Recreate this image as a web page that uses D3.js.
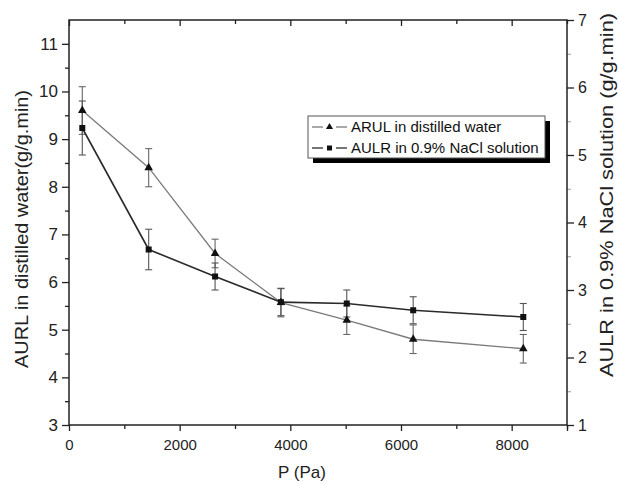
<!DOCTYPE html>
<html>
<head>
<meta charset="utf-8">
<script src="https://cdn.jsdelivr.net/npm/d3@7"></script>
<style>
  html, body { margin: 0; padding: 0; background: #fff; }
  svg { display: block; font-family: Arial, "Liberation Sans", sans-serif; }
</style>
</head>
<body>
<svg id="chart" width="619" height="485"></svg>
<script>
// Applied pressure (Pa)
const pressure = [240, 1440, 2640, 3830, 5020, 6220, 8210];
// Absorption rate in distilled water (left axis) and its error
const arul = [9.6, 8.4, 6.6, 5.57, 5.2, 4.8, 4.6];
const arulErr = [0.5, 0.4, 0.3, 0.3, 0.3, 0.3, 0.3];
// Absorption rate in 0.9% NaCl solution (right axis) and its error
const aulr = [5.4, 3.6, 3.2, 2.82, 2.8, 2.7, 2.6];
const aulrErr = [0.4, 0.3, 0.2, 0.2, 0.2, 0.2, 0.2];

const xTicks = [0, 2000, 4000, 6000, 8000];
const leftTicks = [3, 4, 5, 6, 7, 8, 9, 10, 11];
const rightTicks = [1, 2, 3, 4, 5, 6, 7];
const legendLabels = ["ARUL in distilled water", "AULR in 0.9% NaCl solution"];

const svg = d3.select("#chart");
const L = 69, R = 567, T = 20, B = 425;

const x = d3.scaleLinear().domain([0, 9000]).range([L, R]);
const yL = d3.scaleLinear().domain([3, 11.5]).range([B, T]);
const yR = d3.scaleLinear().domain([1, 7]).range([B, T]);

const axisColor = "#222";

function styleAxis(g) {
  g.selectAll(".domain").remove();
  g.selectAll("line").attr("stroke", axisColor).attr("stroke-width", 1.3);
  g.selectAll("text").attr("fill", "#222").style("font-size", "15px");
}

// minor ticks
const xMinor = d3.range(1000, 9001, 2000);
const leftMinor = d3.range(3.5, 11.5, 1);
const rightMinor = d3.range(1.5, 7, 1);

svg.append("g").attr("transform", `translate(0,${B})`)
  .call(d3.axisBottom(x).tickValues(xMinor).tickSize(4).tickFormat(""))
  .call(styleAxis);
svg.append("g").attr("transform", `translate(0,${B})`)
  .call(d3.axisBottom(x).tickValues(xTicks.concat([9000])).tickSize(6).tickPadding(8)
    .tickFormat(d => d === 9000 ? "" : d3.format("d")(d)))
  .call(styleAxis)
  .call(g => g.selectAll("text").style("font-size", "15px"));

svg.append("g").attr("transform", `translate(0,${T})`)
  .call(d3.axisBottom(x).tickValues(xMinor).tickSize(4).tickFormat(""))
  .call(styleAxis);
svg.append("g").attr("transform", `translate(0,${T})`)
  .call(d3.axisBottom(x).tickValues(xTicks).tickSize(6).tickFormat(""))
  .call(styleAxis);

svg.append("g").attr("transform", `translate(${L},0)`)
  .call(d3.axisLeft(yL).tickValues(leftMinor).tickSize(4).tickFormat(""))
  .call(styleAxis);
svg.append("g").attr("transform", `translate(${L},0)`)
  .call(d3.axisLeft(yL).tickValues(leftTicks).tickSize(7).tickPadding(4).tickFormat(d3.format("d")))
  .call(styleAxis)
  .call(g => g.selectAll("text").style("font-size", "17px"));

svg.append("g").attr("transform", `translate(${R},0)`)
  .call(d3.axisRight(yR).tickValues(rightMinor).tickSize(4).tickFormat(""))
  .call(styleAxis)
  .call(g => g.selectAll("line").attr("stroke", "#999").attr("stroke-width", 1));
svg.append("g").attr("transform", `translate(${R},0)`)
  .call(d3.axisRight(yR).tickValues(rightTicks).tickSize(7).tickPadding(4).tickFormat(d3.format("d")))
  .call(styleAxis)
  .call(g => g.selectAll("text").style("font-size", "16px"));

// frame
svg.append("rect").attr("x", L).attr("y", T).attr("width", R - L).attr("height", B - T)
  .attr("fill", "none").attr("stroke", axisColor).attr("stroke-width", 1.5);

// error bars
function errorBars(vals, errs, y, color) {
  const g = svg.append("g").attr("stroke", color).attr("stroke-width", 1.1).attr("fill", "none");
  vals.forEach((v, i) => {
    const cx = x(pressure[i]);
    const y1 = y(v + errs[i]), y2 = y(v - errs[i]);
    g.append("line").attr("x1", cx).attr("x2", cx).attr("y1", y1).attr("y2", y2);
    g.append("line").attr("x1", cx - 3.5).attr("x2", cx + 3.5).attr("y1", y1).attr("y2", y1);
    g.append("line").attr("x1", cx - 3.5).attr("x2", cx + 3.5).attr("y1", y2).attr("y2", y2);
  });
}
errorBars(arul, arulErr, yL, "#666");
errorBars(aulr, aulrErr, yR, "#555");

// lines
const lineL = d3.line().x((d, i) => x(pressure[i])).y(d => yL(d));
const lineR = d3.line().x((d, i) => x(pressure[i])).y(d => yR(d));
svg.append("path").attr("d", lineL(arul)).attr("fill", "none").attr("stroke", "#7a7a7a").attr("stroke-width", 1.3);
svg.append("path").attr("d", lineR(aulr)).attr("fill", "none").attr("stroke", "#2a2a2a").attr("stroke-width", 1.6);

// markers
const tri = d3.symbol().type(d3.symbolTriangle).size(32);
svg.append("g").selectAll("path").data(arul).join("path")
  .attr("d", tri)
  .attr("transform", (d, i) => `translate(${x(pressure[i])},${yL(d)})`)
  .attr("fill", "#111");
svg.append("g").selectAll("rect").data(aulr).join("rect")
  .attr("x", (d, i) => x(pressure[i]) - 3)
  .attr("y", d => yR(d) - 3)
  .attr("width", 6).attr("height", 6)
  .attr("fill", "#111");

// legend
const lg = svg.append("g");
lg.append("rect").attr("x", 313).attr("y", 121).attr("width", 237).attr("height", 42).attr("fill", "#000");
lg.append("rect").attr("x", 308).attr("y", 116).attr("width", 237).attr("height", 42)
  .attr("fill", "#fff").attr("stroke", "#555").attr("stroke-width", 1);
const rows = [
  { y: 127, color: "#7a7a7a", mark: "tri" },
  { y: 148, color: "#2a2a2a", mark: "sq" }
];
rows.forEach((r, i) => {
  lg.append("line").attr("x1", 312).attr("x2", 323).attr("y1", r.y).attr("y2", r.y)
    .attr("stroke", r.color).attr("stroke-width", 1.3);
  lg.append("line").attr("x1", 336).attr("x2", 347).attr("y1", r.y).attr("y2", r.y)
    .attr("stroke", r.color).attr("stroke-width", 1.3);
  if (r.mark === "tri") {
    lg.append("path").attr("d", d3.symbol().type(d3.symbolTriangle).size(22)())
      .attr("transform", `translate(329.5,${r.y})`).attr("fill", "#111");
  } else {
    lg.append("rect").attr("x", 327).attr("y", r.y - 2.5).attr("width", 5).attr("height", 5).attr("fill", "#111");
  }
  lg.append("text").attr("x", 351).attr("y", r.y).attr("dy", "0.35em")
    .style("font-size", "15px").attr("fill", "#111").text(legendLabels[i]);
});

// axis titles
svg.append("text").attr("x", 302).attr("y", 478).attr("text-anchor", "middle")
  .style("font-size", "17px").attr("fill", "#222").text("P (Pa)");
svg.append("text").attr("transform", "translate(28,229) rotate(-90)").attr("text-anchor", "middle")
  .style("font-size", "19px").attr("fill", "#222")
  .attr("textLength", 278).attr("lengthAdjust", "spacingAndGlyphs")
  .text("AURL in distilled water(g/g.min)");
svg.append("text").attr("transform", "translate(613,195) rotate(-90)").attr("text-anchor", "middle")
  .style("font-size", "19px").attr("fill", "#222")
  .attr("textLength", 364).attr("lengthAdjust", "spacingAndGlyphs")
  .text("AULR in 0.9% NaCl solution (g/g.min)");
</script>
</body>
</html>
